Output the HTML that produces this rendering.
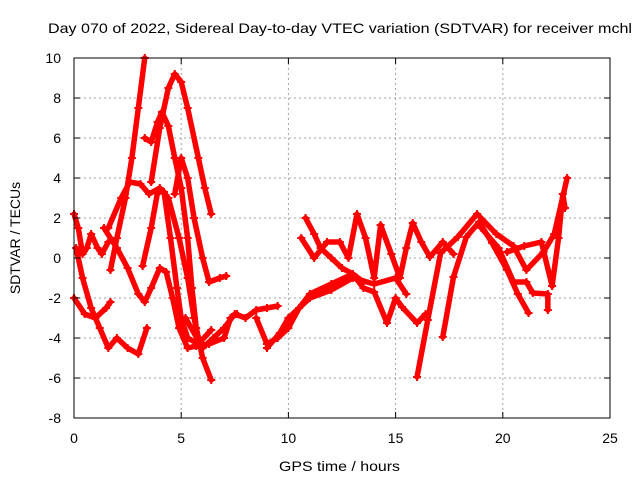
<!DOCTYPE html>
<html><head><meta charset="utf-8"><style>
body{margin:0;background:#fff}
svg text{font-family:"Liberation Sans",sans-serif;fill:#000}
</style></head><body>
<svg id="chart" width="640" height="480" viewBox="0 0 640 480" xmlns="http://www.w3.org/2000/svg">
<rect width="640" height="480" fill="#fff"/>
<text x="48" y="33" font-size="14" textLength="584" lengthAdjust="spacingAndGlyphs">Day 070 of 2022, Sidereal Day-to-day VTEC variation (SDTVAR) for receiver mchl</text>
<g id="grid"></g><g id="marks"></g><g id="axes"></g>
<text x="279" y="471" font-size="14" textLength="121" lengthAdjust="spacingAndGlyphs">GPS time / hours</text>
<text transform="translate(20,238) rotate(-90)" font-size="14" text-anchor="middle">SDTVAR / TECUs</text>
</svg>
<script>
const xTicks=[0,5,10,15,20,25];
const yTicks=[-8,-6,-4,-2,0,2,4,6,8,10];
const trackA=[[1.7,-0.6],[2.0,1],[2.4,3],[2.7,5],[3.0,7.5],[3.3,10]];
const trackB=[[3.3,6],[3.6,5.8],[3.9,6.8],[4.1,7.3],[4.4,6.6],[4.7,5],[5.0,3.5],[5.3,1],[5.5,-1.5],[5.7,-3.5],[5.9,-4.5]];
const trackC=[[3.6,3.8],[4.0,6.5],[4.4,8.5],[4.7,9.2],[5.0,8.8],[5.3,7.5],[5.8,5],[6.1,3.5],[6.4,2.2]];
const trackD=[[1.6,1.5],[2.2,3],[2.6,3.8],[3.1,3.7],[3.5,3.2],[4.0,3.5],[4.4,3],[4.9,1],[5.3,-1],[5.6,-3],[6.0,-5],[6.4,-6.1]];
const trackE=[[1.4,1.5],[2.0,0.5],[2.5,-0.5],[3.0,-1.8],[3.3,-2.2],[3.6,-1.5],[4.0,-0.5],[4.3,-0.7],[4.6,-2],[4.9,-3.5],[5.3,-4.5],[5.7,-4.4],[6.3,-4.3],[7.0,-4],[7.3,-3],[7.6,-2.8]];
const trackF=[[4.7,3.2],[5.0,5],[5.3,4],[5.6,2],[6.0,0],[6.3,-1.2],[6.8,-1],[7.1,-0.9]];
const trackG=[[3.2,-0.4],[3.6,1.5],[3.9,3.3],[4.2,3.3],[4.5,1],[4.8,-1.5],[5.0,-3],[5.3,-4],[5.8,-4.3],[6.4,-3.6]];
const trackH=[[0,2.2],[0.2,1.5],[0.4,0.2],[0.6,0.5],[0.8,1.2],[1.1,0.5],[1.3,0.2],[1.6,0.8]];
const trackI=[[0.1,0.5],[0.4,-1],[0.8,-2.5],[1.2,-3.5],[1.6,-4.5],[2.0,-4],[2.5,-4.5],[3.0,-4.8],[3.4,-3.5]];
const trackJ=[[0,-2],[0.5,-2.8],[1.0,-3],[1.5,-2.5],[1.7,-2.2]];
const trackK=[[5.2,-3],[6.0,-4.5],[6.5,-4],[7.0,-3.5],[7.5,-2.8],[8.0,-3],[8.5,-2.6],[9.0,-2.5],[9.5,-2.4]];
const trackL=[[8.5,-3],[9.0,-4.3],[9.5,-4],[10,-3.5],[10.5,-2.5],[11,-1.8],[12,-1.3],[13,-0.8],[13.5,-1.2]];
const trackM=[[9,-4.5],[9.6,-3.75],[10,-3],[11,-2],[12,-1.6],[13,-1],[14,-1.3],[15,-1],[15.5,-1.8]];
const trackN=[[10.8,2.0],[11.2,1.2],[11.5,0.5],[12,0],[12.5,-0.5],[13,-0.8],[13.5,-1.5],[14,-1.7],[14.6,-3.25],[15,-2],[15.3,-2.45],[16.0,-3.25],[16.4,-2.8]];
const trackO=[[10.6,1.0],[11.2,0],[11.8,0.8],[12.4,0.8],[12.8,0],[13.2,2.2],[13.6,1],[14.0,-1],[14.3,1.65],[14.8,0.2],[15.2,-1],[15.5,0.5],[15.8,1.75],[16.2,0.8],[16.6,0.05],[17.2,0.8],[17.7,0.2]];
const trackP=[[16.0,-5.95],[16.5,-3.1],[17.1,0.25],[17.9,1.05],[18.8,2.2],[19.7,1.2],[20.5,0.6],[21.1,-0.6],[21.9,0.3],[22.4,1.2],[23.0,4.0]];
const trackQ=[[17.2,-3.95],[17.7,-0.95],[18.3,1.05],[18.9,1.8],[19.5,0.75],[20.2,-0.6],[20.7,-1.8],[21.2,-2.75]];
const trackR=[[19.0,1.5],[19.8,0.5],[20.5,-1.2],[21.1,-1.2],[21.4,-1.75],[22.1,-1.8],[22.1,-2.6]];
const trackS=[[20.2,0.3],[21.0,0.6],[21.8,0.8],[22.3,-1.4],[22.6,1],[22.8,3.2],[22.9,2.5]];
const tracks=[trackA,trackB,trackC,trackD,trackE,trackF,trackG,trackH,trackI,trackJ,trackK,trackL,trackM,trackN,trackO,trackP,trackQ,trackR,trackS];

const X0=74,X1=610,Y0=418,Y1=58;
const sx=v=>X0+(v-0)/(25-0)*(X1-X0);
const sy=v=>Y0-(v+8)/(18)*(Y0-Y1);
const NS="http://www.w3.org/2000/svg";
function mk(tag,attrs,parent){const e=document.createElementNS(NS,tag);for(const k in attrs)e.setAttribute(k,attrs[k]);parent.appendChild(e);return e;}
const grid=document.getElementById('grid'),axes=document.getElementById('axes'),marks=document.getElementById('marks');
xTicks.forEach(t=>{
  const x=sx(t);
  if(t>0&&t<25){const g=mk('line',{x1:x,x2:x,y1:Y1,y2:Y0,stroke:'#a0a0a0','stroke-dasharray':'2,3'},grid);
  
  }
  mk('line',{x1:x,x2:x,y1:Y0,y2:Y0-6,stroke:'#000'},axes);
  mk('line',{x1:x,x2:x,y1:Y1,y2:Y1+6,stroke:'#000'},axes);
  const l=mk('text',{x:x,y:443,'font-size':14,'text-anchor':'middle'},axes);l.textContent=t;
  
  
});
yTicks.forEach(t=>{
  const y=sy(t);
  if(t>-8&&t<10){const g=mk('line',{x1:X0,x2:X1,y1:y,y2:y,stroke:'#a0a0a0','stroke-dasharray':'2,3'},grid);
  
  }
  mk('line',{x1:X0,x2:X0+6,y1:y,y2:y,stroke:'#000'},axes);
  mk('line',{x1:X1,x2:X1-6,y1:y,y2:y,stroke:'#000'},axes);
  const l=mk('text',{x:61,y:y+5,'font-size':14,'text-anchor':'end'},axes);l.textContent=t;
  
  
});
const frame=mk('rect',{x:X0,y:Y1,width:X1-X0,height:Y0-Y1,fill:'none',stroke:'#000'},axes);


tracks.forEach((tr,i)=>{
  const pl=mk('polyline',{points:tr.map(p=>sx(p[0])+','+sy(p[1])).join(' '),fill:'none',stroke:'#ff0000','stroke-width':5.5,'stroke-linejoin':'round','stroke-linecap':'round'},marks);
  
  
  tr.forEach(p=>{
    const x=sx(p[0]),y=sy(p[1]);
    const m=mk('path',{d:`M${x-4},${y}H${x+4}M${x},${y-4}V${y+4}`,stroke:'#ff0000','stroke-width':2},marks);
    
    
  });
});
</script>
</body></html>
